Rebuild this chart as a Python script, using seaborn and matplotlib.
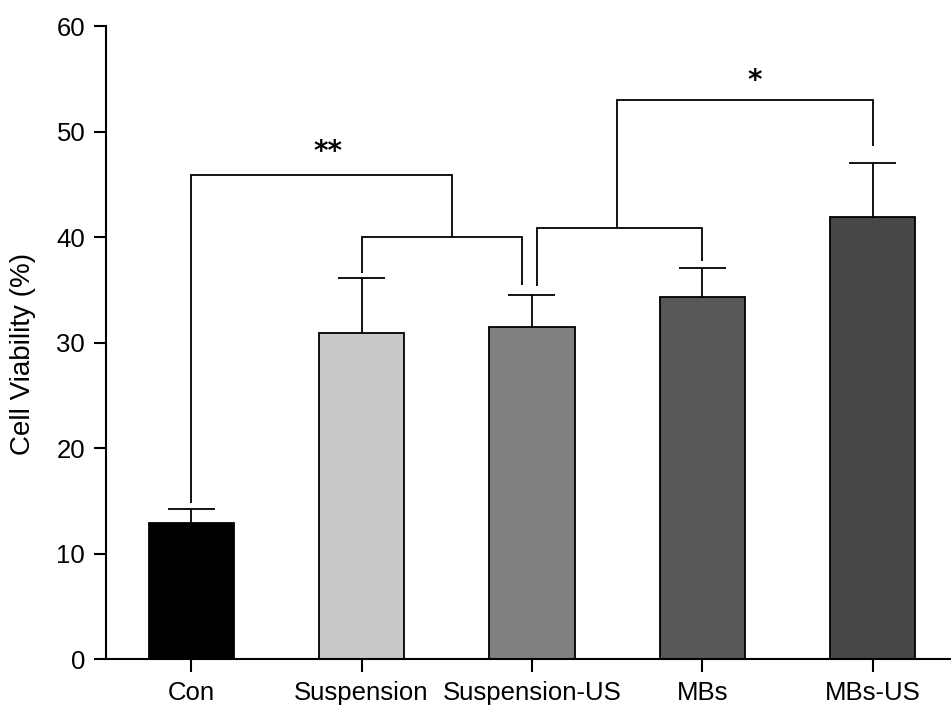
import matplotlib
matplotlib.use("Agg")
import matplotlib.pyplot as plt
import seaborn as sns
import pandas as pd

# values
groups = ['Con', 'Suspension', 'Suspension-US', 'MBs', 'MBs-US']
viability = [12.9, 30.9, 31.5, 34.3, 41.9]
sd = [1.3, 5.2, 3.0, 2.8, 5.1]
colors = ['#000000', '#c8c8c8', '#808080', '#585858', '#474747']

# significance brackets: (x_left, x_right, top, left_leg_bottom, right_leg_bottom)
brackets = [
    (0.0, 1.53, 45.9, 14.85, 40.0),
    (1.0, 1.94, 40.0, 36.6, 35.5),
    (2.03, 3.0, 40.85, 35.4, 37.8),
    (2.5, 4.0, 53.0, 40.85, 48.65),
]
stars = [(0.80, 48.1, '**'), (3.31, 54.8, '*')]

sns.set_style('white')
plt.rcParams['font.family'] = ['Liberation Sans', 'DejaVu Sans']
plt.rcParams['text.color'] = 'black'
plt.rcParams['axes.labelcolor'] = 'black'
plt.rcParams['xtick.color'] = 'black'
plt.rcParams['ytick.color'] = 'black'

df = pd.DataFrame({'group': groups, 'value': viability})

fig = plt.figure(figsize=(9.51, 7.07), dpi=100)
ax = fig.add_axes([0.1115, 0.0675, 0.8885, 0.8953])

sns.barplot(data=df, x='group', y='value', hue='group', palette=colors,
            width=0.5, edgecolor='black', linewidth=1.3, legend=False, ax=ax)

# one-sided (upper) error bars
xs = range(len(groups))
tops = [v + e for v, e in zip(viability, sd)]
ax.vlines(xs, viability, tops, color='black', lw=1.3)
ax.hlines(tops, [x - 0.138 for x in xs], [x + 0.138 for x in xs], color='black', lw=1.3)

for xl, xr, top, bl, br in brackets:
    ax.plot([xl, xl, xr, xr], [bl, top, top, br], color='black', lw=1.3,
            solid_joinstyle='miter', solid_capstyle='butt')
for x, y, s in stars:
    ax.text(x, y, s, ha='center', va='center', fontsize=20, fontweight='bold',
            family='DejaVu Sans', color='black')

ax.set_ylim(0, 60)
ax.set_xlim(-0.5, 4.46)
ax.set_yticks(range(0, 61, 10))
ax.set_xlabel('')
ax.set_ylabel('Cell Viability (%)', fontsize=20)
ax.yaxis.set_label_coords(-0.083, 0.482)
ax.tick_params(axis='both', direction='out', length=9, width=1.5, labelsize=18.5,
               bottom=True, left=True, pad=6)
ax.tick_params(axis='x', pad=7)
sns.despine(ax=ax)
for side in ['left', 'bottom']:
    ax.spines[side].set_linewidth(1.5)
    ax.spines[side].set_color('black')

fig.savefig('out.png', dpi=100)
